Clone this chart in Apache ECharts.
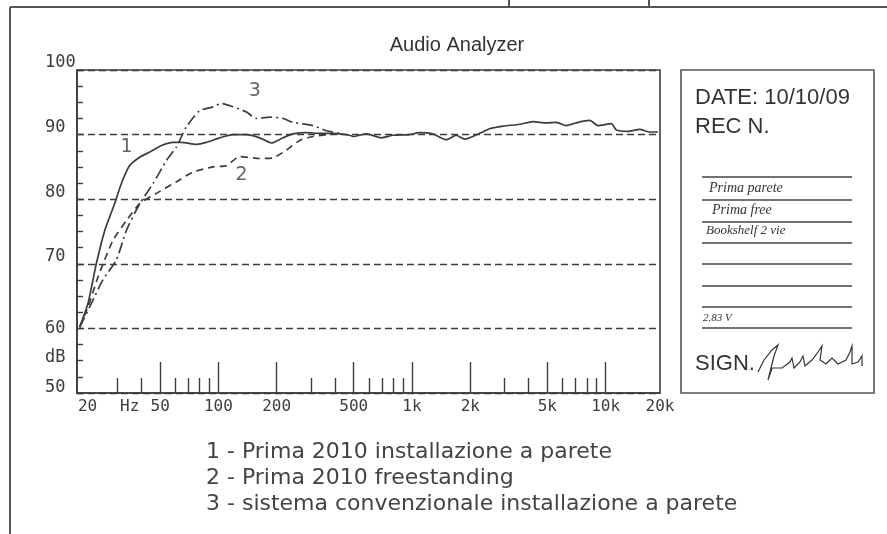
<!DOCTYPE html>
<html>
<head>
<meta charset="UTF-8">
<title>Audio Analyzer</title>
<script src="https://cdn.jsdelivr.net/npm/echarts@6/dist/echarts.min.js"></script>
<style>
  html, body { margin: 0; padding: 0; background: #fff; }
  #main { width: 887px; height: 534px; }
</style>
</head>
<body>
<div id="main"></div>
<script>
// curves: [frequency Hz, level dB]
var curve1 = [[19.2, 60.2], [21.2, 63.9], [23.4, 70.0], [25.9, 75.2], [29.1, 79.3], [31.5, 82.4],
  [34.8, 85.2], [39.2, 86.5], [44.2, 87.3], [50.8, 88.3], [58.3, 88.8], [64.4, 88.8], [77, 88.5],
  [86.7, 88.8], [101.5, 89.5], [118.9, 90.0], [139.5, 90.0], [163.4, 89.5], [187.8, 88.7],
  [215.6, 89.5], [242.7, 90.1], [284.6, 90.3], [333.5, 90.2], [390.8, 90.2], [476.7, 89.9],
  [495.7, 89.7], [581.3, 90.1], [694.7, 89.5], [797.6, 89.9], [973, 90.0], [1096, 90.3],
  [1284, 90.1], [1505, 89.2], [1695, 89.9], [1871, 89.3], [2236, 90.2], [2518, 90.9],
  [2950, 91.3], [3599, 91.6], [4217, 92.0], [4944, 91.8], [5569, 91.9], [6274, 91.4],
  [7198, 91.9], [8273, 92.2], [9133, 91.4], [10712, 91.7], [11370, 90.7], [13052, 90.5],
  [14997, 90.8], [16889, 90.4], [18643, 90.4]];
var curve2 = [[19.2, 60.2], [21.2, 63.3], [23.9, 68.0], [28.5, 73.6], [33.5, 76.7], [39.2, 79.3],
  [47.8, 80.9], [60.7, 82.7], [73.9, 84.2], [93.8, 85.0], [109.9, 85.2], [128.8, 86.6],
  [163.4, 86.3], [191.4, 86.4], [224.5, 87.6], [263, 89.1], [308, 89.7], [361.2, 90.0], [400, 90.1]];
var curve3 = [[19.2, 60.2], [22.1, 63.9], [25.3, 67.5], [29.7, 70.6], [33.5, 75.2], [39.2, 79.3],
  [45.9, 82.4], [53.9, 86.0], [60.7, 88.1], [68.3, 91.2], [80, 93.7], [93.8, 94.3], [103.6, 94.8],
  [118.9, 94.3], [139.5, 93.5], [157.1, 92.5], [184, 92.7], [215.6, 92.5], [242.7, 91.9],
  [308, 91.4], [361.2, 90.6], [440, 90.1]];
var seriesNames = ['Prima 2010 installazione a parete', 'Prima 2010 freestanding',
  'sistema convenzionale installazione a parete'];
// curve numbers written on the plot
var curveTags = [[33.5, 88.1, '1'], [131.5, 83.7, '2'], [154, 96.8, '3']];

var xMin = 18.6, xMax = 19100;
var majorTicks = [50, 100, 200, 500, 1000, 2000, 5000, 10000];
var minorTicks = [30, 40, 60, 70, 80, 90, 300, 400, 600, 700, 800, 900, 3000, 4000, 6000, 7000, 8000, 9000];
var xLabelVals = [20, 30, 50, 100, 200, 500, 1000, 2000, 5000, 10000, 20000];
var xLabelText = ['20', 'Hz', '50', '100', '200', '500', '1k', '2k', '5k', '10k', '20k'];
var yLabelVals = [50, 55, 60, 70, 80, 90, 100];
var yLabelText = ['50', 'dB', '60', '70', '80', '90', '100'];

var ink = '#3c3c3c';
var mono = 'DejaVu Sans Mono';

var xLabelPos = xLabelVals.map(function (v) { return Math.min(v, xMax); });
function xLabelFmt(v) {
  var i = xLabelPos.indexOf(v);
  if (i < 0) return '';
  var t = xLabelText[i];
  if (t === '20') return '{first|' + t + '}';
  if (t === 'Hz') return '{hz|' + t + '}';
  return '{n|' + t + '}';
}
function yLabelFmt(v) {
  var i = yLabelVals.indexOf(v);
  if (i < 0) return '';
  var t = yLabelText[i];
  if (t === '60') return '{s|' + t + '}';
  if (t === 'dB') return '{d|' + t + '}';
  if (t === '50') return '{b|' + t + '}';
  return '{n|' + t + '}';
}
var lab = { fontFamily: mono, fontSize: 16, color: ink };

var myChart = echarts.init(document.getElementById('main'));

var series = [curve1, curve2, curve3].map(function (d, i) {
  return {
    name: seriesNames[i],
    type: 'line',
    data: d,
    showSymbol: false,
    smooth: 0.2,
    xAxisIndex: 0,
    yAxisIndex: 0,
    lineStyle: {
      color: ink,
      width: 1.7,
      type: i === 0 ? 'solid' : (i === 1 ? [7, 5] : [11, 4, 2, 4])
    },
    itemStyle: { color: ink },
    emphasis: { disabled: true }
  };
});
series.push({
  name: 'tags',
  type: 'scatter',
  data: curveTags,
  symbolSize: 0,
  label: {
    show: true,
    position: 'inside',
    formatter: function (p) { return p.data[2]; },
    fontFamily: 'DejaVu Sans',
    fontSize: 19,
    color: ink
  }
});

var option = {
  animation: false,
  backgroundColor: '#fff',
  title: {
    text: 'Audio Analyzer',
    left: 452,
    top: 30,
    textAlign: 'center',
    textStyle: { fontFamily: 'Liberation Sans', fontSize: 20, fontWeight: 'normal', color: '#333' }
  },
  legend: {
    data: seriesNames,
    orient: 'vertical',
    left: 195,
    top: 435,
    itemWidth: 0,
    itemHeight: 0,
    itemGap: 2,
    selectedMode: false,
    formatter: function (name) { return (seriesNames.indexOf(name) + 1) + ' - ' + name; },
    textStyle: { fontFamily: 'DejaVu Sans', fontSize: 22, lineHeight: 24, color: '#444' }
  },
  grid: {
    left: 77, top: 70, right: 227, bottom: 141,
    show: true, borderColor: ink, borderWidth: 1.6,
    outerBoundsMode: 'none'
  },
  xAxis: [{
    type: 'log', logBase: 10, min: xMin, max: xMax, position: 'bottom',
    axisLine: { show: true, lineStyle: { color: ink, width: 1.6 } },
    axisTick: { show: true, inside: true, length: 31, customValues: majorTicks, lineStyle: { color: ink, width: 1.4 } },
    axisLabel: {
      customValues: xLabelPos, formatter: xLabelFmt, margin: 6,
      rich: {
        n: lab,
        first: { fontFamily: mono, fontSize: 16, color: ink, padding: [0, 0, 0, 9] },
        hz: { fontFamily: mono, fontSize: 16, color: ink, padding: [0, 0, 0, 25] }
      }
    },
    splitLine: { show: false }
  }, {
    type: 'log', logBase: 10, min: xMin, max: xMax, position: 'bottom',
    axisLine: { show: false },
    axisTick: { show: true, inside: true, length: 15, customValues: minorTicks, lineStyle: { color: ink, width: 1.4 } },
    axisLabel: { show: false },
    splitLine: { show: false }
  }],
  yAxis: [{
    type: 'value', min: 50, max: 100, interval: 2.5, position: 'left',
    axisLine: { show: true, lineStyle: { color: ink, width: 1.6 } },
    axisTick: { show: true, inside: true, length: 6, lineStyle: { color: ink, width: 1.4 } },
    axisLabel: {
      customValues: yLabelVals, formatter: yLabelFmt, margin: 32, align: 'left', verticalAlign: 'middle',
      rich: {
        n: { fontFamily: mono, fontSize: 17, color: ink, padding: [0, 0, 14, 0] },
        b: { fontFamily: mono, fontSize: 17, color: ink, padding: [0, 0, 11, 0] },
        d: { fontFamily: mono, fontSize: 17, color: ink, padding: [0, 0, 6, 0] },
        s: { fontFamily: mono, fontSize: 17, color: ink }
      }
    },
    splitLine: { show: false }
  }, {
    type: 'value', min: 50, max: 100, interval: 10, position: 'left',
    axisLine: { show: false },
    axisTick: { show: false },
    axisLabel: { show: false },
    splitLine: { show: true, lineStyle: { color: ink, width: 1.4, type: [7, 4] } }
  }],
  series: series,
  graphic: [
    // sheet frame
    { type: 'line', shape: { x1: 10, y1: 7, x2: 887, y2: 7 }, style: { stroke: '#555', lineWidth: 2 } },
    { type: 'line', shape: { x1: 10, y1: 7, x2: 10, y2: 534 }, style: { stroke: '#555', lineWidth: 2 } },
    { type: 'line', shape: { x1: 509, y1: 0, x2: 509, y2: 7 }, style: { stroke: '#555', lineWidth: 2 } },
    { type: 'line', shape: { x1: 649, y1: 0, x2: 649, y2: 7 }, style: { stroke: '#555', lineWidth: 2 } },
    // record box
    { type: 'rect', shape: { x: 681, y: 70, width: 193, height: 323 }, style: { fill: null, stroke: '#555', lineWidth: 1.6 } },
    { type: 'text', left: 695, top: 87, style: { text: 'DATE: 10/10/09', font: '22px "Liberation Sans"', fill: '#333' } },
    { type: 'text', left: 695, top: 116, style: { text: 'REC N.', font: '22px "Liberation Sans"', fill: '#333' } },
    { type: 'group', children: [177, 200, 222, 243, 264, 286, 307, 328].map(function (y) {
      return { type: 'line', shape: { x1: 702, y1: y, x2: 852, y2: y }, style: { stroke: '#444', lineWidth: 1.3 } };
    }) },
    { type: 'text', left: 709, top: 181, style: { text: 'Prima parete', font: 'italic 14px "Liberation Serif"', fill: '#333' } },
    { type: 'text', left: 712, top: 203, style: { text: 'Prima free', font: 'italic 14px "Liberation Serif"', fill: '#333' } },
    { type: 'text', left: 706, top: 224, style: { text: 'Bookshelf 2 vie', font: 'italic 13px "Liberation Serif"', fill: '#333' } },
    { type: 'text', left: 703, top: 313, style: { text: '2.83 V', font: 'italic 11px "Liberation Serif"', fill: '#333' } },
    { type: 'text', left: 695, top: 353, style: { text: 'SIGN.', font: '22px "Liberation Sans"', fill: '#333' } },
    { type: 'polyline', shape: { points: [[758, 372], [764, 360], [772, 350], [778, 345], [774, 356], [770, 372], [768, 380],
      [772, 368], [782, 368], [790, 362], [792, 358], [794, 368], [800, 362], [803, 356], [805, 366], [812, 360],
      [818, 352], [822, 346], [820, 360], [826, 364], [832, 358], [838, 364], [846, 360], [850, 352], [852, 346],
      [852, 364], [858, 362], [862, 356], [862, 366]] }, style: { stroke: '#333', lineWidth: 1.2, fill: null } }
  ]
};

myChart.setOption(option);
</script>
</body>
</html>
